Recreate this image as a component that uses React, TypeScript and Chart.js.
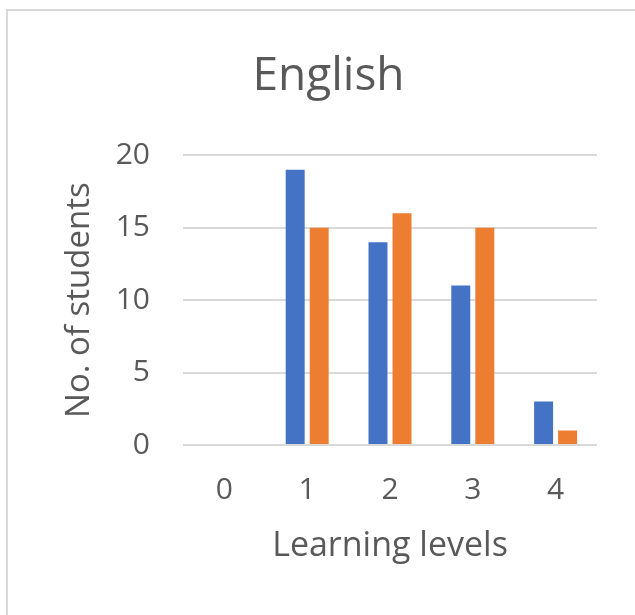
import React, { useEffect, useRef } from "react";
import { Chart, registerables } from "chart.js";

Chart.register(...registerables);

const categories = ["0", "1", "2", "3", "4"];
const seriesA = [0, 19, 14, 11, 3];
const seriesB = [0, 15, 16, 15, 1];
const yTicks = [0, 5, 10, 15, 20];

const FONT = "'Open Sans', 'Liberation Sans', sans-serif";
const TEXT = "#595959";

export default function App() {
  const ref = useRef<HTMLCanvasElement | null>(null);
  useEffect(() => {
    document.body.style.margin = "0";
    const ctx = ref.current!;
    const chart = new Chart(ctx, {
      type: "bar",
      data: {
        labels: categories,
        datasets: [
          { label: "A", data: seriesA, backgroundColor: "#4472C4", categoryPercentage: 0.58, barPercentage: 0.79 },
          { label: "B", data: seriesB, backgroundColor: "#ED7D31", categoryPercentage: 0.58, barPercentage: 0.79 },
        ],
      },
      options: {
        animation: false,
        responsive: false,
        layout: { padding: { left: 60, right: 38, top: 49, bottom: 0 } },
        plugins: {
          legend: { display: false },
          tooltip: { enabled: false },
          title: {
            display: true,
            text: "English",
            color: TEXT,
            font: { family: FONT, size: 46, weight: "normal" },
            padding: { top: 0, bottom: 51 },
          },
        },
        scales: {
          x: {
            afterFit: (s: any) => {
              s.height = 170;
            },
            grid: { display: false, drawTicks: false },
            border: { display: false },
            ticks: { color: TEXT, font: { family: FONT, size: 30, lineHeight: 1.0 }, padding: 30 },
            title: {
              display: true,
              text: "Learning levels",
              color: TEXT,
              font: { family: FONT, size: 34, lineHeight: 1.0 },
              padding: { top: 0, bottom: 52 },
            },
          },
          y: {
            min: 0,
            max: 20,
            afterFit: (s: any) => {
              s.width = 123;
            },
            afterBuildTicks: (s: any) => {
              s.ticks = yTicks.map((v) => ({ value: v }));
            },
            grid: { color: "#d9d9d9", lineWidth: 2, drawTicks: false },
            border: { display: false },
            ticks: { color: TEXT, font: { family: FONT, size: 30 }, padding: 33 },
            title: {
              display: true,
              text: "No. of students",
              color: TEXT,
              font: { family: FONT, size: 33, lineHeight: 1.2 },
              padding: { top: 0, bottom: 20 },
            },
          },
        },
      },
    });
    return () => chart.destroy();
  }, []);
  return (
    <div style={{ position: "fixed", left: 0, top: 0, width: 635, height: 615, overflow: "hidden", background: "#fff" }}>
      <div
        style={{
          position: "absolute",
          left: 6,
          top: 9,
          width: 700,
          height: 700,
          border: "2px solid #d9d9d9",
          boxSizing: "border-box",
        }}
      />
      <canvas ref={ref} width={635} height={615} style={{ position: "absolute", left: 0, top: 0 }} />
    </div>
  );
}
